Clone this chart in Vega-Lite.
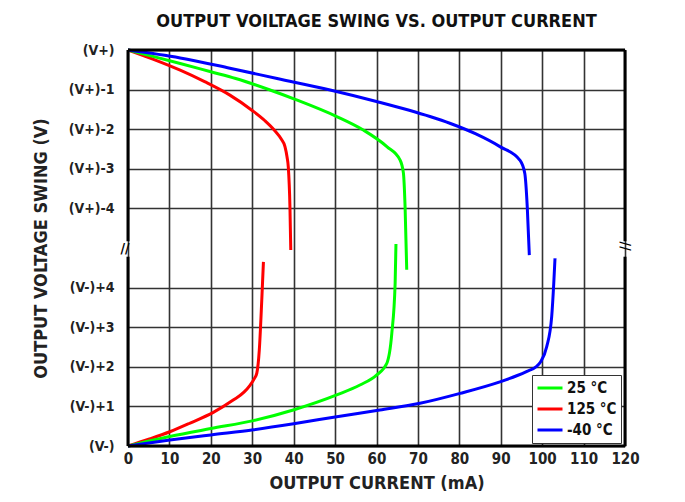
{
  "$schema": "https://vega.github.io/schema/vega-lite/v6.json",
  "width": 497,
  "height": 396,
  "autosize": {"type": "none"},
  "padding": {"left": 128, "top": 50, "right": 60, "bottom": 56},
  "background": "white",
  "title": {
    "text": "OUTPUT VOILTAGE SWING VS. OUTPUT CURRENT",
    "font": "DejaVu Sans Condensed, sans-serif",
    "fontSize": 18,
    "fontWeight": "bold",
    "color": "#111",
    "anchor": "middle",
    "offset": 12
  },
  "config": {
    "view": {"stroke": null},
    "font": "DejaVu Sans Condensed, sans-serif",
    "axis": {
      "labelFont": "DejaVu Sans Condensed, sans-serif",
      "titleFont": "DejaVu Sans Condensed, sans-serif",
      "labelFontWeight": "bold",
      "titleFontWeight": "bold",
      "labelColor": "#222",
      "titleColor": "#222",
      "gridColor": "#333",
      "gridWidth": 1.6,
      "gridOpacity": 1,
      "domain": false,
      "ticks": false,
      "labelOverlap": false,
      "labelFlush": false
    }
  },
  "datasets": {
    "curves": [
      {"s": "125 °C", "seg": "top", "i": 0, "mA": 0, "v": 10},
      {"s": "125 °C", "seg": "top", "i": 1, "mA": 6, "v": 9.77},
      {"s": "125 °C", "seg": "top", "i": 2, "mA": 12.6, "v": 9.49},
      {"s": "125 °C", "seg": "top", "i": 3, "mA": 18.5, "v": 9.2},
      {"s": "125 °C", "seg": "top", "i": 4, "mA": 24.6, "v": 8.86},
      {"s": "125 °C", "seg": "top", "i": 5, "mA": 29.9, "v": 8.48},
      {"s": "125 °C", "seg": "top", "i": 6, "mA": 33, "v": 8.22},
      {"s": "125 °C", "seg": "top", "i": 7, "mA": 35.3, "v": 7.98},
      {"s": "125 °C", "seg": "top", "i": 8, "mA": 37, "v": 7.75},
      {"s": "125 °C", "seg": "top", "i": 9, "mA": 37.9, "v": 7.56},
      {"s": "125 °C", "seg": "top", "i": 10, "mA": 38.4, "v": 7.3},
      {"s": "125 °C", "seg": "top", "i": 11, "mA": 38.7, "v": 7.05},
      {"s": "125 °C", "seg": "top", "i": 12, "mA": 39.1, "v": 6.04},
      {"s": "125 °C", "seg": "top", "i": 13, "mA": 39.3, "v": 4.95},
      {"s": "25 °C", "seg": "top", "i": 0, "mA": 0, "v": 10},
      {"s": "25 °C", "seg": "top", "i": 1, "mA": 6, "v": 9.84},
      {"s": "25 °C", "seg": "top", "i": 2, "mA": 12.6, "v": 9.66},
      {"s": "25 °C", "seg": "top", "i": 3, "mA": 20, "v": 9.45},
      {"s": "25 °C", "seg": "top", "i": 4, "mA": 26, "v": 9.28},
      {"s": "25 °C", "seg": "top", "i": 5, "mA": 34.3, "v": 8.99},
      {"s": "25 °C", "seg": "top", "i": 6, "mA": 40.7, "v": 8.74},
      {"s": "25 °C", "seg": "top", "i": 7, "mA": 50.4, "v": 8.32},
      {"s": "25 °C", "seg": "top", "i": 8, "mA": 56.8, "v": 7.98},
      {"s": "25 °C", "seg": "top", "i": 9, "mA": 62.5, "v": 7.56},
      {"s": "25 °C", "seg": "top", "i": 10, "mA": 65.7, "v": 7.22},
      {"s": "25 °C", "seg": "top", "i": 11, "mA": 66.5, "v": 6.89},
      {"s": "25 °C", "seg": "top", "i": 12, "mA": 66.9, "v": 6.04},
      {"s": "25 °C", "seg": "top", "i": 13, "mA": 67.3, "v": 4.45},
      {"s": "-40 °C", "seg": "top", "i": 0, "mA": 0, "v": 10},
      {"s": "-40 °C", "seg": "top", "i": 1, "mA": 12.6, "v": 9.8},
      {"s": "-40 °C", "seg": "top", "i": 2, "mA": 24.6, "v": 9.54},
      {"s": "-40 °C", "seg": "top", "i": 3, "mA": 36, "v": 9.28},
      {"s": "-40 °C", "seg": "top", "i": 4, "mA": 48.8, "v": 8.99},
      {"s": "-40 °C", "seg": "top", "i": 5, "mA": 60, "v": 8.7},
      {"s": "-40 °C", "seg": "top", "i": 6, "mA": 72.9, "v": 8.32},
      {"s": "-40 °C", "seg": "top", "i": 7, "mA": 77.7, "v": 8.15},
      {"s": "-40 °C", "seg": "top", "i": 8, "mA": 84, "v": 7.88},
      {"s": "-40 °C", "seg": "top", "i": 9, "mA": 89.8, "v": 7.56},
      {"s": "-40 °C", "seg": "top", "i": 10, "mA": 94.6, "v": 7.22},
      {"s": "-40 °C", "seg": "top", "i": 11, "mA": 95.8, "v": 6.89},
      {"s": "-40 °C", "seg": "top", "i": 12, "mA": 96.4, "v": 6.04},
      {"s": "-40 °C", "seg": "top", "i": 13, "mA": 96.9, "v": 4.82},
      {"s": "125 °C", "seg": "bot", "i": 0, "mA": 0, "v": 0},
      {"s": "125 °C", "seg": "bot", "i": 1, "mA": 5, "v": 0.17},
      {"s": "125 °C", "seg": "bot", "i": 2, "mA": 10.1, "v": 0.36},
      {"s": "125 °C", "seg": "bot", "i": 3, "mA": 15, "v": 0.58},
      {"s": "125 °C", "seg": "bot", "i": 4, "mA": 20.6, "v": 0.85},
      {"s": "125 °C", "seg": "bot", "i": 5, "mA": 25.4, "v": 1.16},
      {"s": "125 °C", "seg": "bot", "i": 6, "mA": 28, "v": 1.36},
      {"s": "125 °C", "seg": "bot", "i": 7, "mA": 29.5, "v": 1.54},
      {"s": "125 °C", "seg": "bot", "i": 8, "mA": 30.5, "v": 1.7},
      {"s": "125 °C", "seg": "bot", "i": 9, "mA": 31.1, "v": 1.84},
      {"s": "125 °C", "seg": "bot", "i": 10, "mA": 31.7, "v": 2.42},
      {"s": "125 °C", "seg": "bot", "i": 11, "mA": 32.3, "v": 3.69},
      {"s": "125 °C", "seg": "bot", "i": 12, "mA": 32.7, "v": 4.65},
      {"s": "25 °C", "seg": "bot", "i": 0, "mA": 0, "v": 0},
      {"s": "25 °C", "seg": "bot", "i": 1, "mA": 10.1, "v": 0.24},
      {"s": "25 °C", "seg": "bot", "i": 2, "mA": 20, "v": 0.44},
      {"s": "25 °C", "seg": "bot", "i": 3, "mA": 30.3, "v": 0.64},
      {"s": "25 °C", "seg": "bot", "i": 4, "mA": 39.9, "v": 0.91},
      {"s": "25 °C", "seg": "bot", "i": 5, "mA": 50.4, "v": 1.29},
      {"s": "25 °C", "seg": "bot", "i": 6, "mA": 56, "v": 1.54},
      {"s": "25 °C", "seg": "bot", "i": 7, "mA": 60, "v": 1.79},
      {"s": "25 °C", "seg": "bot", "i": 8, "mA": 62.5, "v": 2.09},
      {"s": "25 °C", "seg": "bot", "i": 9, "mA": 63.7, "v": 2.85},
      {"s": "25 °C", "seg": "bot", "i": 10, "mA": 64.5, "v": 4.11},
      {"s": "25 °C", "seg": "bot", "i": 11, "mA": 64.7, "v": 5.1},
      {"s": "-40 °C", "seg": "bot", "i": 0, "mA": 0, "v": 0},
      {"s": "-40 °C", "seg": "bot", "i": 1, "mA": 10.1, "v": 0.15},
      {"s": "-40 °C", "seg": "bot", "i": 2, "mA": 20, "v": 0.28},
      {"s": "-40 °C", "seg": "bot", "i": 3, "mA": 30.3, "v": 0.41},
      {"s": "-40 °C", "seg": "bot", "i": 4, "mA": 40, "v": 0.56},
      {"s": "-40 °C", "seg": "bot", "i": 5, "mA": 50.4, "v": 0.74},
      {"s": "-40 °C", "seg": "bot", "i": 6, "mA": 60.8, "v": 0.91},
      {"s": "-40 °C", "seg": "bot", "i": 7, "mA": 70.5, "v": 1.08},
      {"s": "-40 °C", "seg": "bot", "i": 8, "mA": 80.2, "v": 1.33},
      {"s": "-40 °C", "seg": "bot", "i": 9, "mA": 89.8, "v": 1.62},
      {"s": "-40 °C", "seg": "bot", "i": 10, "mA": 94, "v": 1.78},
      {"s": "-40 °C", "seg": "bot", "i": 11, "mA": 96.2, "v": 1.88},
      {"s": "-40 °C", "seg": "bot", "i": 12, "mA": 98.5, "v": 2.0},
      {"s": "-40 °C", "seg": "bot", "i": 13, "mA": 99.6, "v": 2.12},
      {"s": "-40 °C", "seg": "bot", "i": 14, "mA": 101.1, "v": 2.51},
      {"s": "-40 °C", "seg": "bot", "i": 15, "mA": 102.3, "v": 3.27},
      {"s": "-40 °C", "seg": "bot", "i": 16, "mA": 102.8, "v": 4.11},
      {"s": "-40 °C", "seg": "bot", "i": 17, "mA": 103.1, "v": 4.74}
    ],
    "frame": [
      {"x1": 0, "x2": 120, "y1": 10, "y2": 10},
      {"x1": 0, "x2": 120, "y1": 0, "y2": 0},
      {"x1": 0, "x2": 0, "y1": 0, "y2": 4.78},
      {"x1": 0, "x2": 0, "y1": 5.17, "y2": 10},
      {"x1": 120, "x2": 120, "y1": 0, "y2": 4.78},
      {"x1": 120, "x2": 120, "y1": 5.17, "y2": 10}
    ],
    "breaks": [
      {"side": "left", "x": 0, "y": 4.97},
      {"side": "right", "x": 120, "y": 4.97}
    ]
  },
  "layer": [
    {
      "data": {"name": "curves"},
      "mark": {"type": "line", "strokeWidth": 3, "interpolate": "monotone", "clip": false},
      "encoding": {
        "x": {
          "field": "mA", "type": "quantitative",
          "scale": {"domain": [0, 120], "nice": false, "zero": false},
          "axis": {
            "values": [0, 10, 20, 30, 40, 50, 60, 70, 80, 90, 100, 110, 120],
            "title": "OUTPUT CURRENT (mA)",
            "labelFontSize": 15,
            "titleFontSize": 18,
            "labelPadding": 5,
            "titlePadding": 8
          }
        },
        "y": {
          "field": "v", "type": "quantitative",
          "scale": {"domain": [0, 10], "nice": false, "zero": false},
          "axis": {
            "values": [0, 1, 2, 3, 4, 6, 7, 8, 9, 10],
            "labelExpr": "datum.value == 10 ? '(V+)' : datum.value > 5 ? '(V+)-' + (10 - datum.value) : datum.value == 0 ? '(V-)' : '(V-)+' + datum.value",
            "title": "OUTPUT VOLTAGE SWING (V)",
            "labelFontSize": 14,
            "titleFontSize": 18,
            "labelPadding": 14,
            "titlePadding": 18
          }
        },
        "color": {
          "field": "s", "type": "nominal",
          "scale": {"domain": ["25 °C", "125 °C", "-40 °C"], "range": ["#00ff00", "#ff0000", "#0000ff"]},
          "legend": {
            "title": null,
            "orient": "none",
            "legendX": 404,
            "legendY": 325,
            "symbolType": "stroke",
            "symbolSize": 625,
            "symbolStrokeWidth": 3,
            "clipHeight": 18,
            "labelFontSize": 15,
            "labelFontWeight": "bold",
            "labelColor": "#111",
            "labelFont": "DejaVu Sans Condensed, sans-serif",
            "fillColor": "white",
            "strokeColor": "#333",
            "padding": 4,
            "rowPadding": 3,
            "labelOffset": 3
          }
        },
        "detail": {"field": "seg"},
        "order": {"field": "i", "type": "quantitative"}
      }
    },
    {
      "data": {"name": "frame"},
      "mark": {"type": "rule", "strokeWidth": 3, "color": "black"},
      "encoding": {
        "x": {"field": "x1", "type": "quantitative"},
        "x2": {"field": "x2"},
        "y": {"field": "y1", "type": "quantitative"},
        "y2": {"field": "y2"}
      }
    },
    {
      "data": {"name": "breaks"},
      "transform": [{"filter": "datum.side == 'left'"}],
      "mark": {"type": "text", "text": "//", "fontSize": 14, "fontWeight": "bold", "dx": -3, "color": "black", "baseline": "middle", "align": "center"},
      "encoding": {
        "x": {"field": "x", "type": "quantitative"},
        "y": {"field": "y", "type": "quantitative"}
      }
    },
    {
      "data": {"name": "breaks"},
      "transform": [{"filter": "datum.side == 'right'"}],
      "mark": {"type": "text", "text": "//", "fontSize": 14, "fontWeight": "bold", "angle": 90, "dx": -3, "color": "black", "baseline": "middle", "align": "center"},
      "encoding": {
        "x": {"field": "x", "type": "quantitative"},
        "y": {"field": "y", "type": "quantitative"}
      }
    }
  ]
}
